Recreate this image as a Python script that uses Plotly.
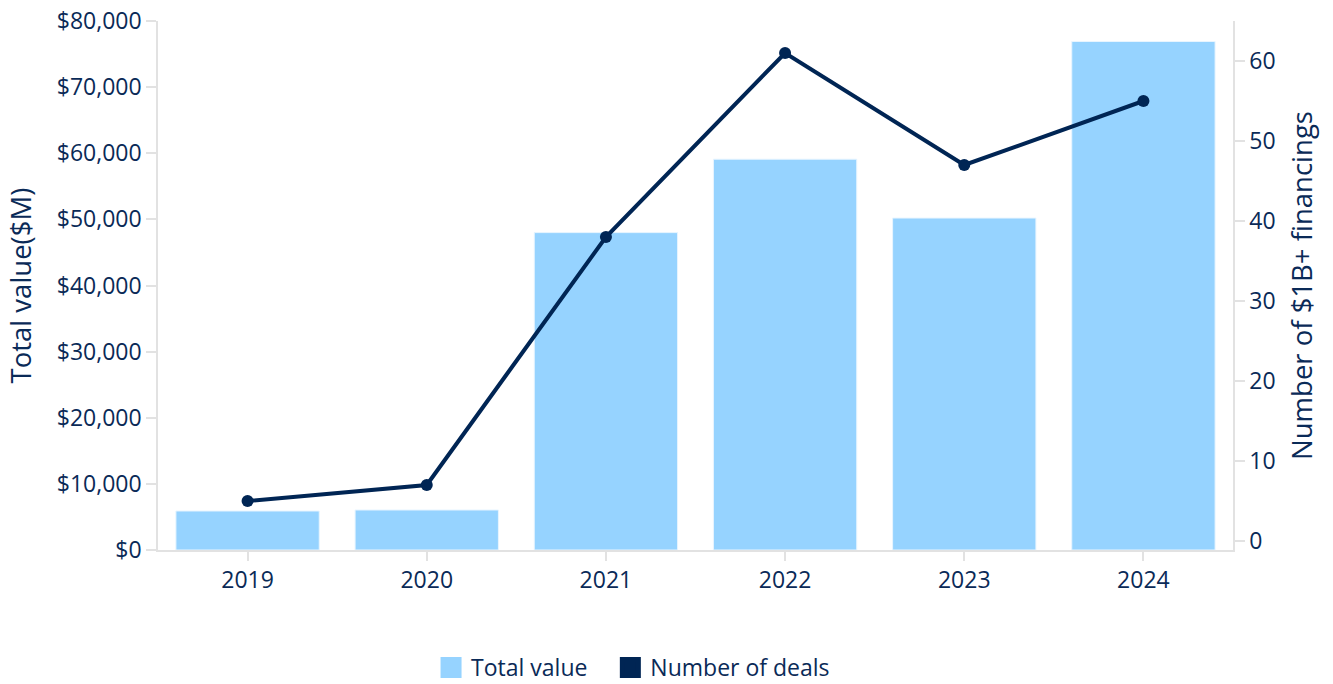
import plotly.graph_objects as go

years = ["2019", "2020", "2021", "2022", "2023", "2024"]
total_value = [5900, 6050, 48000, 59100, 50200, 76900]
num_deals = [5, 7, 38, 61, 47, 55]

NAVY = "#002554"
TXT = "#0a2a57"
BAR = "#96D3FF"
AX = "#e2e2e2"
FONT = "Open Sans"
FS = 23
TFS = 27.5

fig = go.Figure()
fig.add_trace(go.Bar(
    x=years, y=total_value, name="Total value",
    marker=dict(color=BAR, line=dict(color="#e8f5ff", width=1)),
    showlegend=False,
))
fig.add_trace(go.Scatter(
    x=years, y=num_deals, name="Number of deals", yaxis="y2",
    mode="lines+markers",
    line=dict(color=NAVY, width=4),
    marker=dict(color=NAVY, size=12),
    showlegend=False,
))
# legend entries (square swatches)
fig.add_trace(go.Scatter(x=[None], y=[None], mode="markers", name="Total value\u00a0\u00a0\u00a0",
                         marker=dict(symbol="square", size=16, color=BAR,
                                     line=dict(color=BAR, width=5))))
fig.add_trace(go.Scatter(x=[None], y=[None], mode="markers", name="Number of deals",
                         marker=dict(symbol="square", size=16, color=NAVY,
                                     line=dict(color=NAVY, width=5))))

fig.update_layout(
    width=1325, height=676,
    paper_bgcolor="white", plot_bgcolor="white",
    font=dict(family=FONT, size=FS, color=TXT),
    margin=dict(l=150, r=100, t=13, b=134, autoexpand=False),
    bargap=0.2,
    xaxis=dict(
        showgrid=False, showline=True, linecolor=AX, linewidth=1.5,
        ticks="outside", tickcolor=AX, ticklen=9, tickwidth=1.5,
        tickfont=dict(size=FS, color=TXT), automargin=False,
    ),
    yaxis=dict(
        range=[0, 80000], dtick=10000, tickprefix="$", tickformat=",",
        showgrid=False, showline=True, linecolor=AX, linewidth=1.5,
        ticks="outside", tickcolor=AX, ticklen=10, tickwidth=1.5,
        tickfont=dict(size=FS, color=TXT), ticklabeloverflow="allow",
        zeroline=False, automargin=False,
    ),
    yaxis2=dict(
        overlaying="y", side="right", range=[-1.125, 65], dtick=10,
        showgrid=False, showline=True, linecolor=AX, linewidth=1.5,
        ticks="outside", tickcolor=AX, ticklen=10, tickwidth=1.5,
        tickfont=dict(size=FS, color=TXT), ticklabeloverflow="allow",
        title=dict(text="Number of $1B+ financings", font=dict(size=TFS, color=TXT), standoff=18),
        zeroline=False, automargin=True,
    ),
    legend=dict(
        orientation="h", x=0.254, xanchor="left", y=-0.222, yanchor="middle",
        font=dict(size=FS, color=TXT),
    ),
    annotations=[dict(
        text="Total value($M)", textangle=-90, font=dict(size=TFS, color=TXT),
        xref="paper", yref="paper", x=(20 - 158) / 1075, y=0.5,
        xanchor="center", yanchor="middle", showarrow=False,
    )],
)

fig.write_html("out.html")
